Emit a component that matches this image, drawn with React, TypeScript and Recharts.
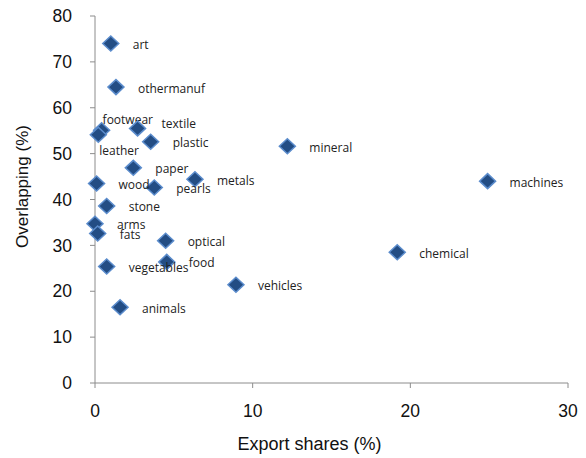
import React from 'react';
import { ScatterChart, Scatter, XAxis, YAxis, Label } from 'recharts';

const names = [
  'art', 'othermanuf', 'footwear', 'leather', 'textile', 'plastic', 'mineral',
  'paper', 'metals', 'pearls', 'wood', 'machines', 'stone', 'arms', 'fats',
  'optical', 'food', 'vegetables', 'vehicles', 'chemical', 'animals',
];
const exportShares = [
  1.0, 1.33, 0.42, 0.21, 2.7, 3.53, 12.2,
  2.43, 6.34, 3.76, 0.1, 24.9, 0.74, 0.0, 0.17,
  4.48, 4.55, 0.74, 8.94, 19.17, 1.59,
];
const overlapping = [
  74.0, 64.5, 55.1, 54.1, 55.5, 52.6, 51.6,
  46.9, 44.4, 42.6, 43.5, 44.0, 38.6, 34.7, 32.6,
  31.0, 26.4, 25.4, 21.4, 28.5, 16.5,
];
const xTicks = [0, 10, 20, 30];
const yTicks = [0, 10, 20, 30, 40, 50, 60, 70, 80];

const points = names.map((name, i) => ({ name, x: exportShares[i], y: overlapping[i] }));

const font = "'Liberation Sans', Arial, sans-serif";

// label placement tweaks (px), default is to the right of the marker
const labelShift: Record<string, [number, number]> = {
  footwear: [1, -11],
  leather: [1, 16],
  textile: [24, -5],
};

const Diamond = (props: any) => {
  const { cx, cy, payload } = props;
  const [dx, dy] = labelShift[payload.name] || [22, 1];
  return (
    <g>
      <polygon
        points={`${cx},${cy - 7.5} ${cx + 8},${cy} ${cx},${cy + 7.5} ${cx - 8},${cy}`}
        fill="#234d84"
        stroke="#5b8ccc"
        strokeWidth={1.5}
      />
      <text
        x={cx + dx}
        y={cy + dy}
        dominantBaseline="central"
        fontSize={12}
        fontFamily="'Open Sans', sans-serif"
        fill="#222"
      >
        {payload.name}
      </text>
    </g>
  );
};

const XTitle = ({ viewBox }: any) => (
  <text x={viewBox.x + viewBox.width / 2 - 22} y={450} textAnchor="middle" fontSize={18} fontFamily={font} fill="#111">
    Export shares (%)
  </text>
);

const YTitle = ({ viewBox }: any) => {
  const cy = viewBox.y + viewBox.height / 2 - 13;
  return (
    <text
      x={22}
      y={cy}
      transform={`rotate(-90, 22, ${cy})`}
      textAnchor="middle"
      dominantBaseline="central"
      fontSize={17}
      fontFamily={font}
      fill="#111"
    >
      Overlapping (%)
    </text>
  );
};

export default function App() {
  return (
    <div style={{ position: 'absolute', left: 0, top: 0, width: 586, height: 458, background: '#fff' }}>
      <ScatterChart width={586} height={458} margin={{ top: 16, right: 18, bottom: 0, left: 0 }}>
        <XAxis
          type="number"
          dataKey="x"
          domain={[0, 30]}
          ticks={xTicks}
          height={75}
          stroke="#8c8c8c"
          tickSize={5}
          tickMargin={17}
          tick={{ fill: '#111', fontSize: 17.5, fontFamily: font }}
        >
          <Label content={XTitle} />
        </XAxis>
        <YAxis
          type="number"
          dataKey="y"
          domain={[0, 80]}
          ticks={yTicks}
          width={95}
          stroke="#8c8c8c"
          tickSize={5}
          tickMargin={18}
          tick={{ fill: '#111', fontSize: 17.5, fontFamily: font }}
        >
          <Label content={YTitle} />
        </YAxis>
        <Scatter data={points} shape={Diamond} isAnimationActive={false} />
      </ScatterChart>
    </div>
  );
}
